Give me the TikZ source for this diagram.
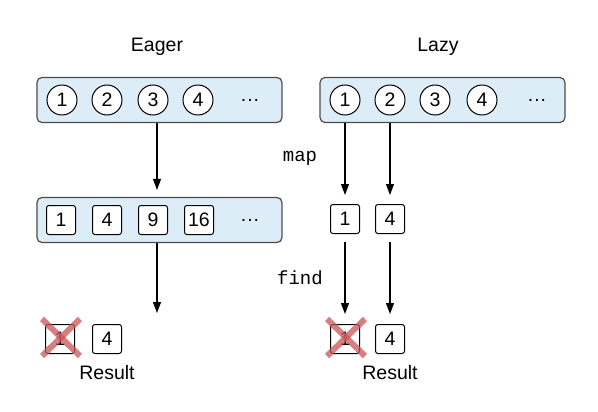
\documentclass[tikz,border=0pt]{standalone}
\usepackage{fontspec}
\setmainfont{Liberation Sans}
\setmonofont{Liberation Mono}
\usetikzlibrary{arrows.meta, positioning}
\definecolor{boxblue}{RGB}{221,237,248}
\definecolor{crossred}{RGB}{200,85,88}

\begin{document}
\begin{tikzpicture}[x=1pt, y=-1pt,
    every node/.style={font=\fontsize{19.5}{22}\selectfont, align=center},
    seq/.style ={draw=black!70, rounded corners=5pt, fill=boxblue, line width=1.2pt,
                 minimum width=245pt, minimum height=45pt},
    elem/.style={draw, circle, fill=white, line width=1pt, minimum size=30pt, inner sep=0pt},
    val/.style ={draw, rectangle, rounded corners=2.5pt, fill=white, line width=1pt,
                 minimum size=29pt, inner sep=0pt},
    arr/.style={-{Triangle[length=11pt, width=8pt]}, line width=1.1pt},
    op/.style={font=\ttfamily\fontsize{19}{22}\selectfont},
    cross/.style={draw=crossred, line width=6pt, opacity=0.75}
]
\useasboundingbox (0,0) rectangle (598,412);

% titles
\node (eagerT) at (157,47) {Eager};
\node (lazyT)  at (438,47) {Lazy};

% input sequences
\node[seq] (eagerIn) at (159.5,100) {};
\node[seq] (lazyIn)  at (442.5,100) {};
\foreach \x/\n in {62/1, 107/2, 153/3, 198/4}
  \node[elem] (e\n) at (\x,100) {\n};
\node (eDots) at (250,100) {.\kern1pt.\kern1pt.};
\foreach \x/\n in {345/1, 390/2, 435/3, 482/4}
  \node[elem] (l\n) at (\x,100) {\n};
\node (lDots) at (537,100) {.\kern1pt.\kern1pt.};

% mapped values
\node[seq] (eagerMap) at (159.5,220) {};
\foreach \x/\v in {61/1, 107/4, 153/9, 199/16}
  \node[val] (m\v) at (\x,220) {\v};
\node (mDots) at (250,220) {.\kern1pt.\kern1pt.};
\node[val] (lm1) at (345,219) {1};
\node[val] (lm4) at (390,219) {4};

% results
\node[val] (er1) at (60,339)  {1};
\node[val] (er4) at (107,339) {4};
\node[val] (lr1) at (345,339) {1};
\node[val] (lr4) at (390,339) {4};
\node (eRes) at (107,373) {Result};
\node (lRes) at (390,373) {Result};

\node[op] (mapL)  at (300,158) {map};
\node[op] (findL) at (300,278) {find};

% connectors
\coordinate (eEnd) at (157,313);
\draw[arr, shorten >=7pt] ([xshift=-2.5pt]eagerIn.south) -- ([xshift=-2.5pt]eagerMap.north);
\draw[arr] ([xshift=-2.5pt]eagerMap.south) -- (eEnd);
\draw[arr, shorten >=9pt] (l1 |- lazyIn.south) -- (lm1);
\draw[arr, shorten >=9pt] (l2 |- lazyIn.south) -- (lm4);
\draw[arr, shorten <=8pt, shorten >=10pt] (lm1) -- (lr1);
\draw[arr, shorten <=8pt, shorten >=10pt] (lm4) -- (lr4);

% crossed out
\foreach \r in {er1, lr1} {
  \draw[cross] ([shift={(-3,-5)}]\r.north west) -- ([shift={(5,2)}]\r.south east);
  \draw[cross] ([shift={(5,-5)}]\r.north east) -- ([shift={(-3,2)}]\r.south west);
}
\end{tikzpicture}
\end{document}
